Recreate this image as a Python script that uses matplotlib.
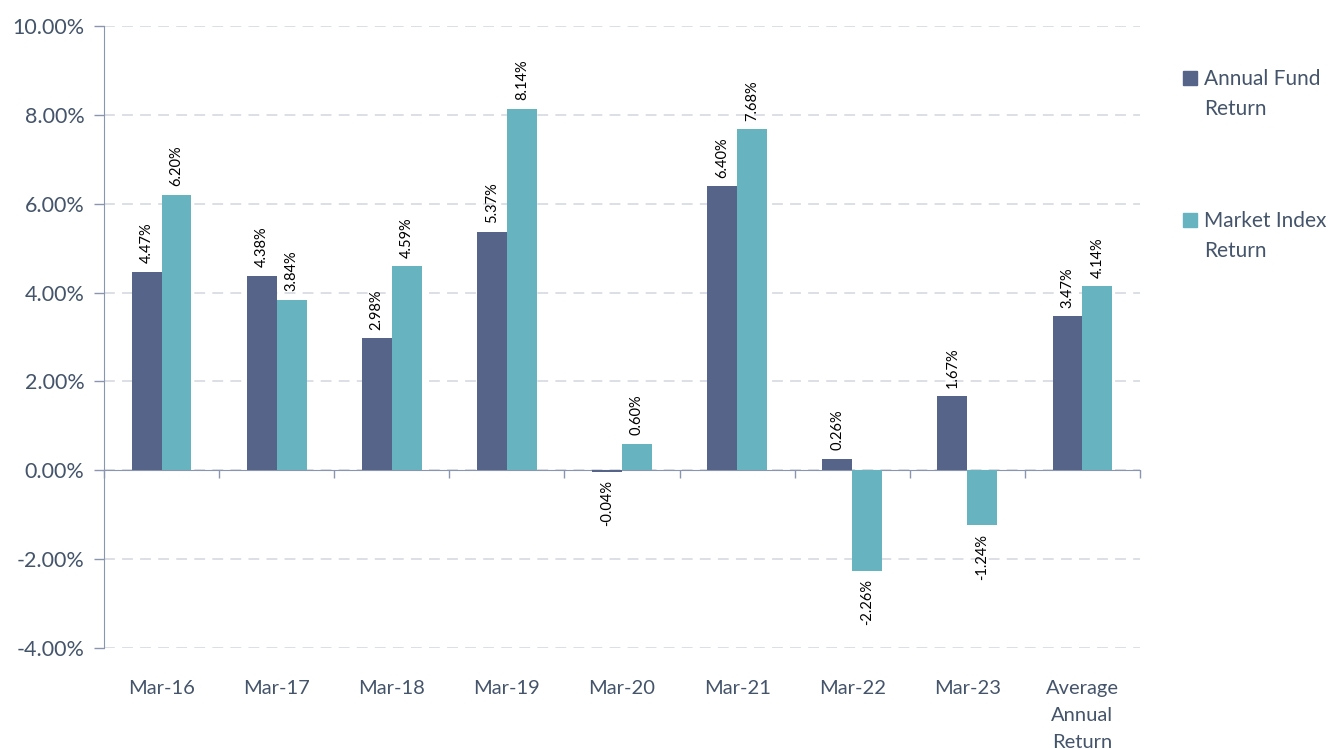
import matplotlib.pyplot as plt
import matplotlib.transforms as mtransforms
from matplotlib.patches import Rectangle
import numpy as np

categories = ["Mar-16", "Mar-17", "Mar-18", "Mar-19", "Mar-20", "Mar-21",
              "Mar-22", "Mar-23", "Average\nAnnual\nReturn"]
fund_return = [4.47, 4.38, 2.98, 5.37, -0.04, 6.40, 0.26, 1.67, 3.47]
index_return = [6.20, 3.84, 4.59, 8.14, 0.60, 7.68, -2.26, -1.24, 4.14]
series_names = ["Annual Fund\nReturn", "Market Index\nReturn"]

fund_color = "#56648A"
index_color = "#68B3C0"
text_color = "#44546A"
axis_color = "#8A95B0"
grid_color = "#D9DCE4"

plt.rcParams['font.family'] = ['Lato', 'DejaVu Sans']

W, H = 1336, 749
fig = plt.figure(figsize=(W / 100, H / 100), dpi=100)
ax = fig.add_axes([104 / W, 1 - 648 / H, (1140 - 104) / W, (648 - 26) / H])

x = np.arange(len(categories))
w = 0.26
ax.bar(x - w / 2, fund_return, w, color=fund_color, zorder=3)
ax.bar(x + w / 2, index_return, w, color=index_color, zorder=3)

ax.set_xlim(-0.5, len(categories) - 0.5)
ax.set_ylim(-4, 10)
yt = np.arange(-4, 10.1, 2)
ax.set_yticks(yt)
ax.set_yticklabels(["%.2f%%" % v for v in yt])
ax.tick_params(axis='y', colors=axis_color, labelcolor=text_color,
               labelsize=15.5, length=7, width=1, pad=7)
ax.yaxis.grid(True, linestyle=(0, (6, 4)), color=grid_color, linewidth=1.3, zorder=0)

for s in ['top', 'right']:
    ax.spines[s].set_visible(False)
ax.spines['left'].set_color(axis_color)
ax.spines['bottom'].set_position(('data', 0))
ax.spines['bottom'].set_color(axis_color)
ax.set_xticks(np.arange(len(categories) + 1) - 0.5)
ax.set_xticklabels([])
ax.tick_params(axis='x', colors=axis_color, length=6, width=1, direction='out')

trans = mtransforms.blended_transform_factory(ax.transData, ax.transAxes)
for i, c in enumerate(categories):
    ax.text(i, -0.052, c, transform=trans, ha='center', va='top',
            fontsize=14.5, color=text_color, linespacing=1.7)

for vals, off in [(fund_return, -w / 2), (index_return, w / 2)]:
    for i, v in enumerate(vals):
        if v >= 0:
            ax.annotate("%.2f%%" % v, (x[i] + off, v), xytext=(0, 6),
                        textcoords='offset points', rotation=90, ha='center',
                        va='bottom', fontsize=10.5, color='black')
        else:
            ax.annotate("%.2f%%" % v, (x[i] + off, v), xytext=(0, -6),
                        textcoords='offset points', rotation=90, ha='center',
                        va='top', fontsize=10.5, color='black')

# legend drawn by hand so the square sits on the first text line
for name, col, ytop in [(series_names[0], fund_color, 78), (series_names[1], index_color, 220)]:
    fig.add_artist(Rectangle((1183 / W, 1 - (ytop + 7) / H), 14 / W, 14 / H,
                             transform=fig.transFigure, color=col))
    fig.text(1204 / W, 1 - (ytop - 9) / H, name, ha='left', va='top',
             fontsize=15, color=text_color, linespacing=1.6)

fig.savefig("out.png", dpi=100)
